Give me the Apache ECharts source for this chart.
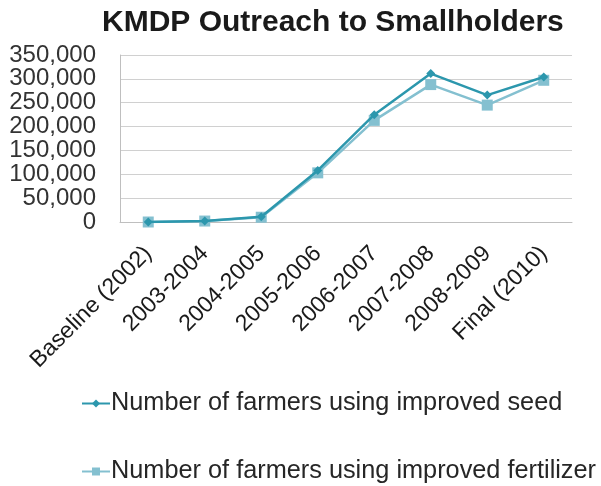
<!DOCTYPE html>
<html>
<head>
<meta charset="utf-8">
<script src="https://cdn.jsdelivr.net/npm/echarts@6/dist/echarts.min.js"></script>
<style>
  html, body { margin: 0; padding: 0; background: #fff; }
  #main { width: 601px; height: 486px; }
</style>
</head>
<body>
<div id="main"></div>
<script>
// values
var periods = ['Baseline (2002)', '2003-2004', '2004-2005', '2005-2006', '2006-2007', '2007-2008', '2008-2009', 'Final (2010)'];
var seedFarmers = [0, 2000, 11000, 108000, 225000, 311000, 266000, 304000];
var fertilizerFarmers = [0, 2000, 10000, 103000, 213000, 288000, 245000, 297000];

var chart = echarts.init(document.getElementById('main'));

var option = {
    backgroundColor: '#ffffff',
    textStyle: { fontFamily: 'Liberation Sans, Arial, sans-serif' },
    title: {
        text: 'KMDP Outreach to Smallholders',
        left: 97,
        top: 3,
        textStyle: { fontSize: 30, fontWeight: 'bold', color: '#1a1a1a', fontFamily: 'Liberation Sans, Arial, sans-serif' }
    },
    legend: {
        orient: 'vertical',
        left: 81,
        top: 391,
        padding: 0,
        height: 95,
        itemGap: 43,
        itemWidth: 28,
        itemHeight: 10,
        textStyle: { fontSize: 25.3, color: '#262626', padding: [0, 0, 0, -4] },
        data: ['Number of farmers using improved seed', 'Number of farmers using improved fertilizer']
    },
    grid: {
        left: 120,
        right: 29,
        top: 55,
        bottom: 264
    },
    xAxis: {
        type: 'category',
        data: periods,
        boundaryGap: true,
        axisLine: { lineStyle: { color: '#bfbfbf' } },
        axisTick: { show: false },
        axisLabel: {
            rotate: 45,
            margin: 28,
            fontSize: 23,
            color: '#1a1a1a',
            interval: 0
        }
    },
    yAxis: {
        type: 'value',
        min: 0,
        max: 350000,
        interval: 50000,
        axisLine: { show: true, lineStyle: { color: '#bfbfbf' } },
        axisTick: { show: false },
        splitLine: { lineStyle: { color: '#d0d0d0', width: 1 } },
        axisLabel: {
            margin: 24,
            fontSize: 24,
            color: '#333333',
            formatter: function (v) { return v.toLocaleString('en-US'); }
        }
    },
    series: [{
        name: 'Number of farmers using improved seed',
        type: 'line',
        data: seedFarmers,
        symbol: 'diamond',
        symbolSize: 9,
        itemStyle: { color: '#2c97ad' },
        lineStyle: { color: '#2c97ad', width: 2.5 },
        z: 3
    }, {
        name: 'Number of farmers using improved fertilizer',
        type: 'line',
        data: fertilizerFarmers,
        symbol: 'rect',
        symbolSize: 11,
        itemStyle: { color: '#84c0d0' },
        lineStyle: { color: '#84c0d0', width: 2.5 },
        z: 2
    }]
};

chart.setOption(option);
</script>
</body>
</html>
